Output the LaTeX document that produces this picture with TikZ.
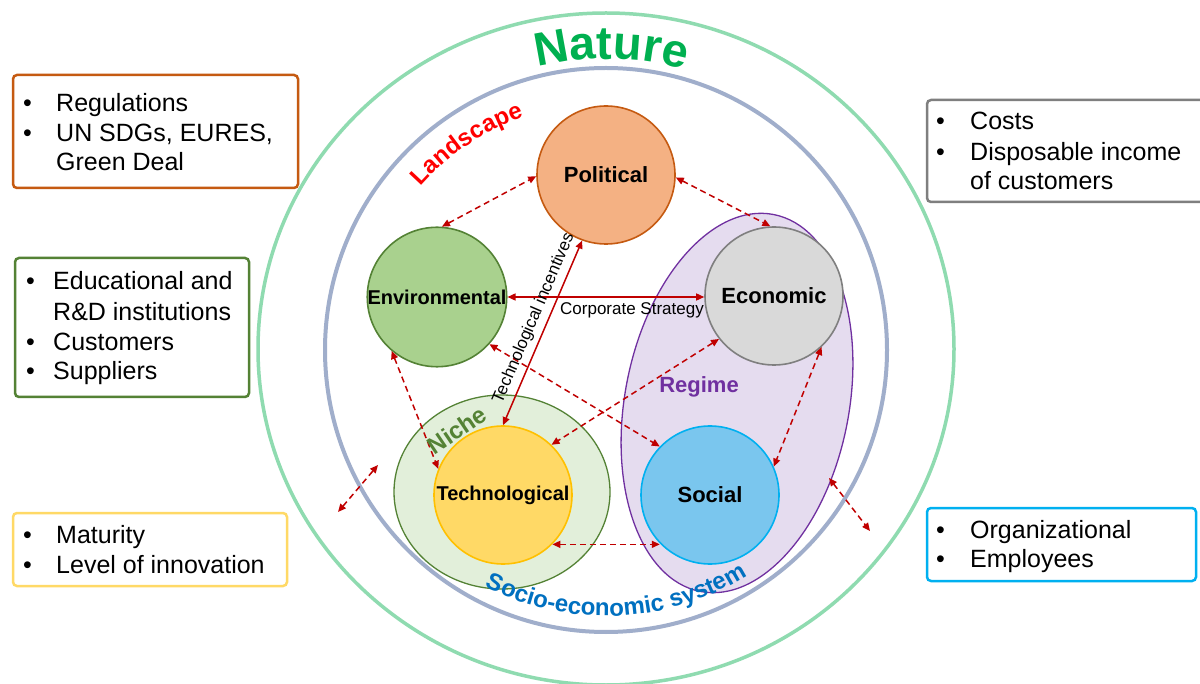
\documentclass[tikz,border=0pt]{standalone}
\usepackage{fontspec}
\setmainfont{Liberation Sans}
\usetikzlibrary{arrows.meta,decorations.text}
\definecolor{natline}{HTML}{8FDBB0}
\definecolor{socline}{HTML}{A0AECB}
\definecolor{natgreen}{HTML}{00B050}
\definecolor{landred}{HTML}{FF0000}
\definecolor{socblue}{HTML}{0070C0}
\definecolor{nichegreen}{HTML}{548235}
\definecolor{regpurple}{HTML}{7030A0}
\definecolor{polfill}{HTML}{F4B183}
\definecolor{polline}{HTML}{C55A11}
\definecolor{envfill}{HTML}{A9D18E}
\definecolor{envline}{HTML}{548235}
\definecolor{ecofill}{HTML}{D9D9D9}
\definecolor{ecoline}{HTML}{7F7F7F}
\definecolor{techfill}{HTML}{FFD966}
\definecolor{techline}{HTML}{FFC000}
\definecolor{socfill}{HTML}{7AC6EE}
\definecolor{socline2}{HTML}{00B0F0}
\definecolor{nichefill}{HTML}{E2EFDA}
\definecolor{regfill}{HTML}{E5DCEF}
\definecolor{arrred}{HTML}{C00000}
\begin{document}
\begin{tikzpicture}[x=1pt,y=-1pt,
  circ/.style={circle, minimum size=138pt, inner sep=0pt, line width=1.6pt,
    font=\fontsize{22}{22}\selectfont\bfseries},
  smallcirc/.style={circ, font=\fontsize{20}{20}\selectfont\bfseries},
  dasharr/.style={arrred, line width=1.5pt, dash pattern=on 6pt off 4pt,
    {Triangle[length=8pt,width=7pt]}-{Triangle[length=8pt,width=7pt]}},
  solidarr/.style={arrred, line width=1.5pt,
    {Triangle[length=8pt,width=7pt]}-{Triangle[length=8pt,width=7pt]}},
  infobox/.style={rectangle, rounded corners=4pt, line width=2.5pt, inner sep=0pt},
  bultext/.style={anchor=base west, inner sep=0pt, font=\fontsize{25}{30}\selectfont},
  biglbl/.style={font=\fontsize{22}{22}\selectfont\bfseries, inner sep=0pt}
]
\useasboundingbox (0,0) rectangle (1200,684);
\fill[white] (0,0) rectangle (1200,684);

% outer rings
\draw[natline, line width=3.5pt] (606,349) ellipse [x radius=348, y radius=336];
\draw[socline, line width=4pt] (606,350) ellipse [x radius=281, y radius=282];

% niche and regime
\draw[nichegreen, fill=nichefill, line width=1.3pt] (502,492) ellipse [x radius=108, y radius=97];
\draw[regpurple, fill=regfill, line width=1.3pt, rotate around={-11:(737,403)}] (737,403) ellipse [x radius=112, y radius=192];

% PESTEL circles
\node[circ, fill=polfill, draw=polline] (pol) at (606,175) {Political};
\node[smallcirc, fill=envfill, draw=envline] (env) at (437,297) {Environmental};
\node[circ, fill=ecofill, draw=ecoline] (eco) at (774,296) {Economic};
\node[smallcirc, fill=techfill, draw=techline] (tech) at (503,495) {Technological};
\node[circ, fill=socfill, draw=socline2] (soc) at (710,495) {Social};

% connectors
\draw[dasharr] (env.86) -- (pol.181);
\draw[dasharr] (pol.-2) -- (eco.93);
\draw[solidarr] (env.east) -- (env.east -| eco.west);
\draw[dasharr] (env.-42) -- (soc.136);
\draw[dasharr] (eco.-142) -- (tech.46);
\draw[dasharr] (eco.-47) -- (soc.24);
\draw[dasharr] (env.230) -- (tech.158);
\draw[dasharr] (tech.-45) -- (tech.-45 -| soc.224);
\draw[solidarr] (tech.north) -- node[pos=0.55, sloped, above=5pt, inner sep=0pt, text=black,
   font=\fontsize{17}{17}\selectfont] (tinc) {Technological incentives} (pol.-110);
\coordinate (la1) at (338,512);
\coordinate (la2) at (378,465);
\draw[dasharr] (la1) -- (la2);
\coordinate (ra1) at (829,478);
\coordinate (ra2) at (870,531);
\draw[dasharr] (ra1) -- (ra2);

\node[anchor=base, inner sep=0pt, font=\fontsize{17}{17}\selectfont] (corp) at (632,315) {Corporate Strategy};
\node[biglbl, text=regpurple] (regt) at (699,387) {Regime};
\node[biglbl, text=nichegreen, font=\fontsize{24}{24}\selectfont\bfseries, rotate=34] (nicht) at (457,430) {Niche};

% curved titles
\path[decorate, decoration={text along path, text align=center,
  text={|\fontsize{47}{47}\selectfont\bfseries\color{natgreen}|Nature}}]
  (606,349) ++(-122:290) arc[start angle=-122, end angle=-56, radius=290];
\path[decorate, decoration={text along path, text align=center,
  text={|\fontsize{24}{24}\selectfont\bfseries\color{landred}|Landscape}}]
  (606,350) ++(-156:247) arc[start angle=-156, end angle=-92, radius=247];
\path[decorate, decoration={text along path, text align=center,
  text={|\fontsize{24}{24}\selectfont\bfseries\color{socblue}|Socio-economic system}}]
  (606,350) ++(130:266) arc[start angle=130, end angle=45, radius=266];

% info boxes
\node[infobox, draw=polline, minimum width=285pt, minimum height=113pt] (box1) at (155.5,131.5) {};
\node[bultext] (b1a) at (23,112) {•};
\node[bultext] (t1a) at (56,112) {Regulations};
\node[bultext] (b1b) at (23,142) {•};
\node[bultext] (t1b) at (56,142) {UN SDGs, EURES,};
\node[bultext] (t1c) at (56,171) {Green Deal};

\node[infobox, draw=ecoline, minimum width=278pt, minimum height=102pt] (box2) at (1066,151) {};
\node[bultext] (b2a) at (936,130) {•};
\node[bultext] (t2a) at (970,130) {Costs};
\node[bultext] (b2b) at (936,161) {•};
\node[bultext] (t2b) at (970,161) {Disposable income};
\node[bultext] (t2c) at (970,190) {of customers};

\node[infobox, draw=envline, minimum width=234pt, minimum height=139pt] (box3) at (132,327.5) {};
\node[bultext] (b3a) at (26,290) {•};
\node[bultext] (t3a) at (53,290) {Educational and};
\node[bultext] (t3b) at (53,321) {R\&D institutions};
\node[bultext] (b3c) at (26,351) {•};
\node[bultext] (t3c) at (53,351) {Customers};
\node[bultext] (b3d) at (26,380) {•};
\node[bultext] (t3d) at (53,380) {Suppliers};

\node[infobox, draw=techfill, minimum width=274pt, minimum height=73pt] (box4) at (150,549.5) {};
\node[bultext] (b4a) at (23,543) {•};
\node[bultext] (t4a) at (56,543) {Maturity};
\node[bultext] (b4b) at (23,573) {•};
\node[bultext] (t4b) at (56,573) {Level of innovation};

\node[infobox, draw=socline2, minimum width=269pt, minimum height=73pt] (box5) at (1061.5,544.5) {};
\node[bultext] (b5a) at (936,538) {•};
\node[bultext] (t5a) at (970,538) {Organizational};
\node[bultext] (b5b) at (936,567) {•};
\node[bultext] (t5b) at (970,567) {Employees};
\end{tikzpicture}
\end{document}
